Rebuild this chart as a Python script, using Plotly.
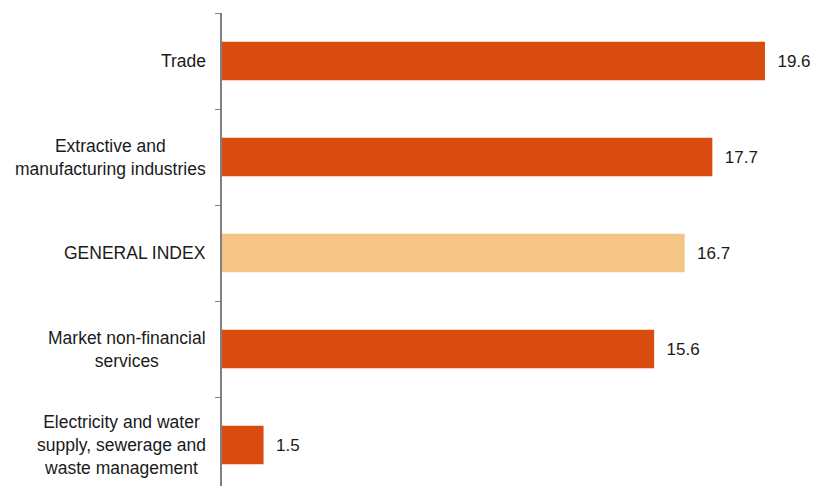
import plotly.graph_objects as go

categories = [
    "Trade",
    "Extractive and<br>manufacturing industries",
    "GENERAL INDEX",
    "Market non-financial<br>services",
    "Electricity and water<br>supply, sewerage and<br>waste management",
]
values = [19.6, 17.7, 16.7, 15.6, 1.5]
colors = ["#D84C10", "#D84C10", "#F4C584", "#D84C10", "#D84C10"]

fig = go.Figure()
fig.add_trace(go.Bar(
    y=categories,
    x=values,
    orientation="h",
    marker=dict(color=colors, line=dict(width=0)),
    width=0.4,
    text=["&nbsp;&nbsp;" + f"{v:.1f}" for v in values],
    textposition="outside",
    constraintext="none",
    cliponaxis=False,
    textfont=dict(family="Liberation Sans, Arial, sans-serif", size=17, color="#1a1a1a"),
    hoverinfo="skip",
))

for c in categories:
    fig.add_annotation(
        x=0, y=c, xref="x", yref="y",
        text=c, showarrow=False,
        xanchor="right", yanchor="middle", align="center",
        xshift=-14,
        font=dict(family="Liberation Sans, Arial, sans-serif", size=17.5, color="#1a1a1a"),
    )

fig.update_layout(
    width=814, height=486,
    margin=dict(l=222, r=0, t=13, b=0),
    paper_bgcolor="white", plot_bgcolor="white",
    showlegend=False,
    xaxis=dict(range=[0, 21.37], visible=False, fixedrange=True),
    yaxis=dict(
        type="category",
        range=[4.427, -0.5],
        showticklabels=False,
        tickson="boundaries",
        ticks="outside", ticklen=5, tickcolor="#808080", tickwidth=1.2,
        showline=True, linecolor="#808080", linewidth=1.5,
        showgrid=False, zeroline=False,
    ),
)

fig.write_html("out.html")
